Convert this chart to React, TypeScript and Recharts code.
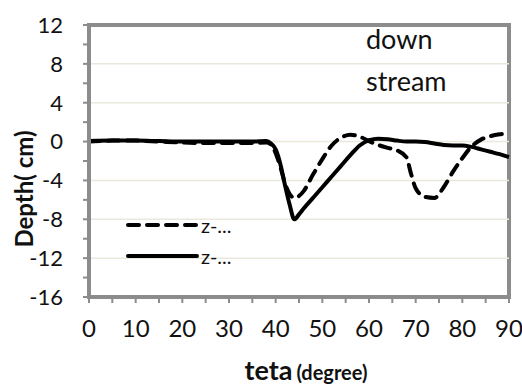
import React from 'react';
import { LineChart, Line, XAxis, YAxis, ReferenceLine, ReferenceArea } from 'recharts';

const theta = [0, 5, 10, 15, 20, 25, 30, 35, 38, 39, 40, 41, 42, 43, 44, 45, 46, 48, 50, 52, 54, 56, 58, 60, 62, 64, 66, 68, 69, 70, 72, 74, 76, 78, 80, 82, 84, 86, 88, 90];
const depthDashed = [0, 0.1, 0.1, 0, -0.1, -0.15, -0.15, -0.15, -0.1, -0.3, -1.2, -2.6, -4.3, -5.4, -5.8, -5.6, -5.1, -3.4, -1.8, -0.4, 0.4, 0.7, 0.5, 0.05, -0.35, -0.65, -0.9, -1.6, -3.3, -4.8, -5.7, -5.8, -4.7, -3.1, -1.7, -0.5, 0.2, 0.55, 0.75, 0.85];
const depthSolid = [0.05, 0.1, 0.1, 0.05, 0, 0, 0, 0, 0.05, -0.2, -0.8, -2.3, -4.5, -6.5, -8, -7.5, -6.9, -5.8, -4.7, -3.6, -2.5, -1.4, -0.4, 0.15, 0.3, 0.25, 0.1, 0, 0, 0, -0.05, -0.2, -0.35, -0.4, -0.4, -0.55, -0.8, -1.05, -1.3, -1.6];
const seriesNames = ['z-...', 'z-...'];

const xTicks = [0, 5, 10, 15, 20, 25, 30, 35, 40, 45, 50, 55, 60, 65, 70, 75, 80, 85, 90];
const yTicks = [-16, -14, -12, -10, -8, -6, -4, -2, 0, 2, 4, 6, 8, 10, 12];
const gridValues = [-12, -8, -4, 0, 4, 8];

const data = theta.map((t, i) => ({ teta: t, dashed: depthDashed[i], solid: depthSolid[i] }));

const FONT = 'Lato, "Open Sans", sans-serif';
const GREY = '#8c8c8c';

function LegendBox() {
    const dashes = ['11 8', undefined];
    return (
        <div style={{ position: 'absolute', left: 125, top: 209, fontFamily: FONT }}>
            {seriesNames.map((name, i) => (
                <div key={i} style={{ display: 'flex', alignItems: 'center', height: 31 }}>
                    <svg width={76} height={10}>
                        <line x1={3} y1={5} x2={72} y2={5} stroke="#000" strokeWidth={4} strokeDasharray={dashes[i]} strokeLinecap="round" />
                    </svg>
                    <span style={{ fontSize: 20, color: '#111' }}>{name}</span>
                </div>
            ))}
        </div>
    );
}

export default function App() {
    return (
        <div style={{ position: 'absolute', left: 0, top: 0, width: 522, height: 385, background: '#fff', overflow: 'hidden' }}>
            <LineChart width={522} height={385} data={data} margin={{ top: 25, right: 13, left: 0, bottom: 0 }}>
                {gridValues.map(v => (
                    <ReferenceLine key={v} y={v} stroke="#ebe8dc" strokeWidth={1.5} />
                ))}
                <XAxis
                    dataKey="teta"
                    type="number"
                    domain={[0, 90]}
                    ticks={xTicks}
                    interval={0}
                    height={88}
                    tickSize={6}
                    tickMargin={17}
                    tickFormatter={(v: number) => (v % 10 === 0 ? String(v) : '')}
                    tick={{ fontSize: 24, fill: '#111', fontFamily: FONT }}
                    axisLine={{ stroke: GREY, strokeWidth: 4 }}
                    tickLine={{ stroke: GREY, strokeWidth: 2 }}
                />
                <YAxis
                    type="number"
                    domain={[-16, 12]}
                    ticks={yTicks}
                    width={89}
                    tickSize={6}
                    tickMargin={20}
                    interval={0}
                    tickFormatter={(v: number) => (v % 4 === 0 ? String(v) : '')}
                    tick={{ fontSize: 22, fill: '#111', fontFamily: FONT }}
                    axisLine={{ stroke: GREY, strokeWidth: 4 }}
                    tickLine={{ stroke: GREY, strokeWidth: 2 }}
                />
                <ReferenceArea x1={0} x2={90} y1={-16} y2={12} fill="none" stroke={GREY} strokeWidth={4} />
                <Line type="monotone" dataKey="dashed" name={seriesNames[0]} stroke="#000" strokeWidth={4} strokeDasharray="11 8" strokeLinecap="round" dot={false} isAnimationActive={false} />
                <Line type="monotone" dataKey="solid" name={seriesNames[1]} stroke="#000" strokeWidth={4} dot={false} isAnimationActive={false} />
            </LineChart>
            <LegendBox />
            <div style={{ position: 'absolute', left: 366, top: 18, fontFamily: FONT, fontSize: 27, lineHeight: '42px', color: '#111' }}>
                down<br />stream
            </div>
            <div style={{
                position: 'absolute', left: 23, top: 189, transform: 'translate(-50%, -50%) rotate(-90deg)',
                fontFamily: FONT, fontSize: 24, fontWeight: 700, color: '#111', whiteSpace: 'nowrap'
            }}>
                Depth( cm)
            </div>
            <div style={{
                position: 'absolute', left: 306, top: 369, transform: 'translate(-50%, -50%)',
                fontFamily: FONT, fontWeight: 700, color: '#111', whiteSpace: 'nowrap', lineHeight: 1
            }}>
                <span style={{ fontSize: 27 }}>teta</span> <span style={{ fontSize: 20 }}>(degree)</span>
            </div>
        </div>
    );
}
